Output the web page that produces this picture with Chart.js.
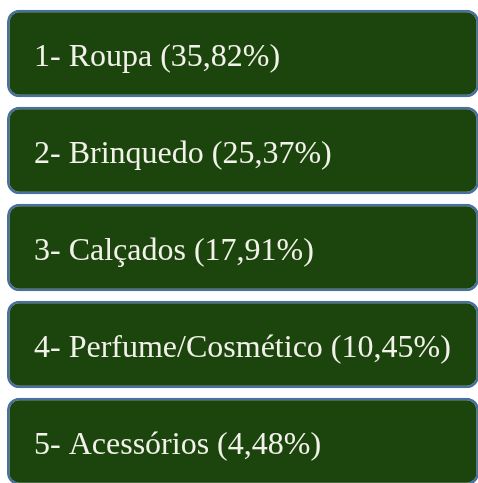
<!DOCTYPE html>
<html>
<head>
<meta charset="utf-8">
<script src="https://cdn.jsdelivr.net/npm/chart.js@4.4.1/dist/chart.umd.min.js"></script>
<style>
  html, body { margin: 0; padding: 0; background: #fff; overflow: hidden; }
  #wrap { width: 479px; height: 495px; }
</style>
</head>
<body>
<div id="wrap"><canvas id="boxChart"></canvas></div>
<script>
// categorias e percentuais
const categories = ['Roupa', 'Brinquedo', 'Calçados', 'Perfume/Cosmético', 'Acessórios'];
const shares = [35.82, 25.37, 17.91, 10.45, 4.48];
// todas as caixas têm o mesmo comprimento na figura
const boxLength = [1, 1, 1, 1, 1];

const fmt = v => v.toFixed(2).replace('.', ',');
const labels = categories.map((c, i) => `${i + 1}- ${c} (${fmt(shares[i])}%)`);

// escreve o texto dentro de cada caixa
const boxText = {
    id: 'boxText',
    afterDatasetsDraw(chart) {
        const ctx = chart.ctx;
        const meta = chart.getDatasetMeta(0);
        ctx.save();
        ctx.font = "32px 'Liberation Serif', 'Times New Roman', serif";
        ctx.fillStyle = '#f2f2ea';
        ctx.textBaseline = 'middle';
        ctx.textAlign = 'left';
        meta.data.forEach((bar, i) => {
            ctx.fillText(labels[i], chart.chartArea.left + 27, bar.y + 4);
        });
        ctx.restore();
    }
};

new Chart(document.getElementById('boxChart'), {
    type: 'bar',
    data: {
        labels: labels,
        datasets: [{
            data: boxLength,
            backgroundColor: '#1c450d',
            borderColor: '#4870a2',
            borderWidth: 2.5,
            borderRadius: 12,
            borderSkipped: false,
            barPercentage: 0.9,
            categoryPercentage: 1
        }]
    },
    options: {
        indexAxis: 'y',
        responsive: true,
        maintainAspectRatio: false,
        animation: false,
        layout: { padding: { left: 7, right: 0, top: 5, bottom: 5 } },
        scales: {
            x: { display: false, min: 0, max: 1 },
            y: { display: false }
        },
        plugins: {
            legend: { display: false },
            tooltip: { enabled: false }
        }
    },
    plugins: [boxText]
});
</script>
</body>
</html>
